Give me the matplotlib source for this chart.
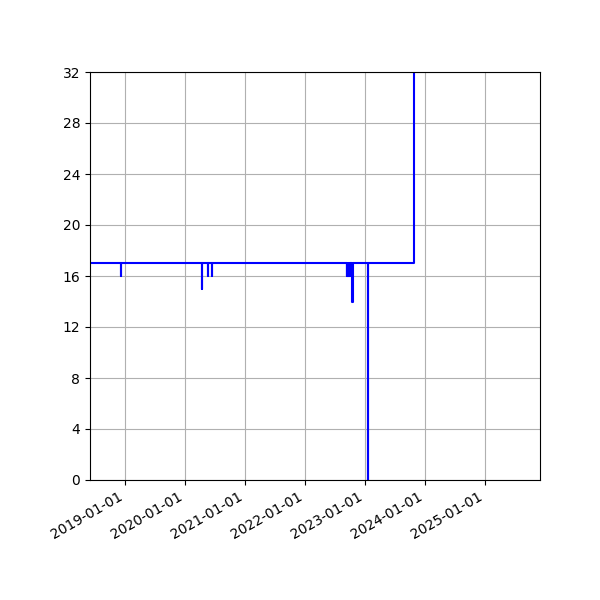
import matplotlib
matplotlib.use("Agg")
import matplotlib.pyplot as plt
import matplotlib.dates as mdates
import numpy as np

# change points of the series (value holds until the next date)
dates = ["2018-05-01",
         "2018-12-05", "2018-12-07",
         "2020-04-14", "2020-04-16",
         "2020-05-21", "2020-05-23",
         "2020-06-11", "2020-06-13",
         "2022-09-11", "2022-09-14", "2022-09-16", "2022-09-19", "2022-09-21",
         "2022-09-24", "2022-09-26", "2022-09-29", "2022-10-01", "2022-10-04",
         "2022-10-06", "2022-10-09", "2022-10-11", "2022-10-14",
         "2022-10-16", "2022-10-17",
         "2023-01-19", "2023-01-21",
         "2023-10-28"]
values = [17,
          16, 17,
          15, 17,
          16, 17,
          16, 17,
          16, 17, 16, 17, 16,
          17, 16, 17, 16, 17,
          16, 17, 16, 17,
          14, 17,
          0, 17,
          40]

x = np.array(dates, dtype="datetime64[D]")

fig, ax = plt.subplots(figsize=(6, 6), dpi=100)
ax.plot(x, values, color='blue', linewidth=1.5, drawstyle='steps-post')

ax.set_xlim(np.datetime64("2018-06-02"), np.datetime64("2025-12-01"))
ax.set_ylim(0, 32)
ax.set_yticks(range(0, 33, 4))
ax.xaxis.set_major_locator(mdates.YearLocator())
ax.xaxis.set_major_formatter(mdates.DateFormatter('%Y-%m-%d'))
ax.grid(True)

fig.autofmt_xdate()
plt.subplots_adjust(left=0.15, right=0.9, top=0.88, bottom=0.2)
plt.savefig("out.png", dpi=100)
